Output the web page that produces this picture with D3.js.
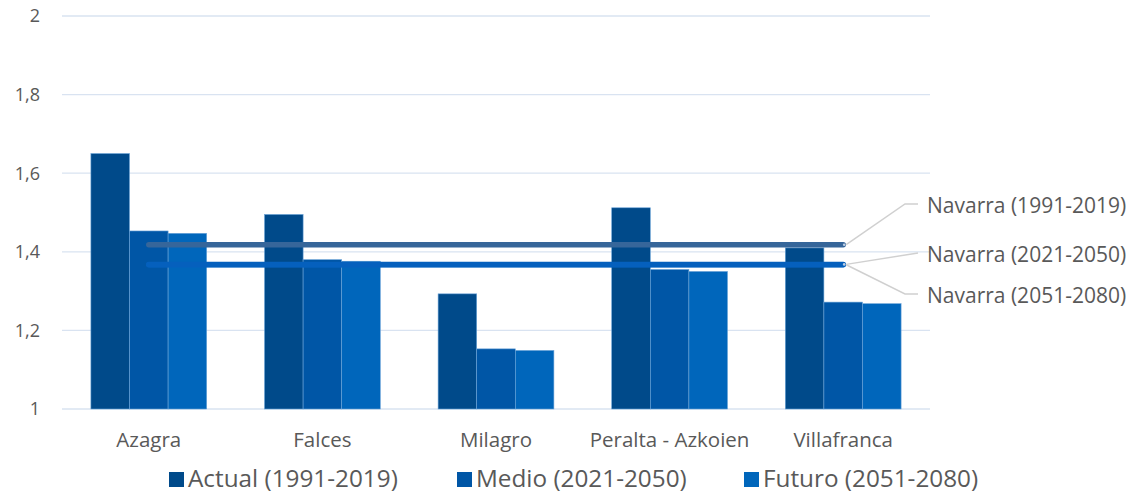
<!DOCTYPE html>
<html>
<head>
<meta charset="utf-8">
<script src="https://cdn.jsdelivr.net/npm/d3@7"></script>
<style>
  body { margin: 0; background: #fff; }
  svg text { font-family: "Open Sans", sans-serif; fill: #595959; }
</style>
</head>
<body>
<div id="chart"></div>
<script>
var categories = ["Azagra", "Falces", "Milagro", "Peralta - Azkoien", "Villafranca"];
var seriesNames = ["Actual (1991-2019)", "Medio (2021-2050)", "Futuro (2051-2080)"];
var actual = [1.65, 1.495, 1.293, 1.512, 1.41];
var medio = [1.453, 1.38, 1.153, 1.355, 1.272];
var futuro = [1.447, 1.376, 1.149, 1.35, 1.268];
var navarraNames = ["Navarra (1991-2019)", "Navarra (2021-2050)", "Navarra (2051-2080)"];
var navarraValues = [1.418, 1.368, 1.367];
var yTicks = [1, 1.2, 1.4, 1.6, 1.8, 2];

var barColors = ["#004a8a", "#0056a6", "#0066bb"];
var lineColors = ["#36669a", "#0560bd", "#0563c1"];

var width = 1131, height = 494;
var margin = {left: 62, right: 201, top: 16, bottom: 85};

var svg = d3.select("#chart").append("svg")
	.attr("width", width)
	.attr("height", height);

// category bands, bars take 2/3 of each band
var x0 = d3.scaleBand().domain(categories).range([margin.left, width - margin.right]);
var groupW = x0.bandwidth() * 0.667;
var xs = d3.scaleBand().domain([0, 1, 2]).range([0, groupW]);

var y = d3.scaleLinear().domain([1, 2]).range([height - margin.bottom, margin.top]);

// gridlines
svg.append("g").selectAll("line")
	.data(yTicks)
	.join("line")
	.attr("x1", margin.left)
	.attr("x2", width - margin.right)
	.attr("y1", d => y(d))
	.attr("y2", d => y(d))
	.attr("stroke", "#d9e3f1")
	.attr("stroke-width", 1.3);

// y labels
svg.append("g").selectAll("text")
	.data(yTicks)
	.join("text")
	.attr("x", 40)
	.attr("y", d => y(d))
	.attr("dy", "0.36em")
	.attr("text-anchor", "end")
	.style("font-size", "18px")
	.text(d => d3.format(".1f")(d).replace(".", ",").replace(",0", ""));

// bars
var series = [actual, medio, futuro];
series.forEach(function(vals, s) {
	svg.append("g").selectAll("rect")
		.data(vals)
		.join("rect")
		.attr("x", (d, i) => x0(categories[i]) + (x0.bandwidth() - groupW) / 2 + xs(s))
		.attr("y", d => y(d))
		.attr("width", xs.bandwidth())
		.attr("height", d => y(1) - y(d))
		.attr("fill", barColors[s])
		.attr("stroke", "#6aa3d8")
		.attr("stroke-width", 0.6);
});

// navarra lines
var lx1 = x0(categories[0]) + x0.bandwidth() / 2;
var lx2 = x0(categories[categories.length - 1]) + x0.bandwidth() / 2;
navarraValues.slice().reverse().forEach(function(v, k) {
	var i = navarraValues.length - 1 - k;
	svg.append("line")
		.attr("x1", lx1).attr("x2", lx2)
		.attr("y1", y(v)).attr("y2", y(v))
		.attr("stroke", lineColors[i])
		.attr("stroke-width", 5.5)
		.attr("stroke-linecap", "round");
	svg.append("circle")
		.attr("cx", lx2 + 1).attr("cy", y(v)).attr("r", 1.3)
		.attr("fill", "#bfcfe3");
});

// labels for navarra lines
var labelY = [204, 253, 294];
var labelX = 927;
navarraValues.forEach(function(v, i) {
	var pts = [[lx2 + 3, y(v)]];
	if (i !== 1) pts.push([905, labelY[i]]);
	pts.push([918, labelY[i]]);
	svg.append("path")
		.attr("d", d3.line()(pts))
		.attr("fill", "none")
		.attr("stroke", "#d0d0d0")
		.attr("stroke-width", 1.5);
	svg.append("text")
		.attr("x", labelX)
		.attr("y", labelY[i] + 8.5)
		.style("font-size", "21px")
		.text(navarraNames[i]);
});

// category labels
svg.append("g").selectAll("text")
	.data(categories)
	.join("text")
	.attr("x", d => x0(d) + x0.bandwidth() / 2)
	.attr("y", 447)
	.attr("text-anchor", "middle")
	.style("font-size", "20.5px")
	.text(d => d);

// legend
var legendX = [169, 457, 744];
seriesNames.forEach(function(name, i) {
	svg.append("rect")
		.attr("x", legendX[i]).attr("y", 472)
		.attr("width", 15).attr("height", 15)
		.attr("fill", barColors[i]);
	svg.append("text")
		.attr("x", legendX[i] + 19)
		.attr("y", 487)
		.style("font-size", "24.3px")
		.text(name);
});
</script>
</body>
</html>
